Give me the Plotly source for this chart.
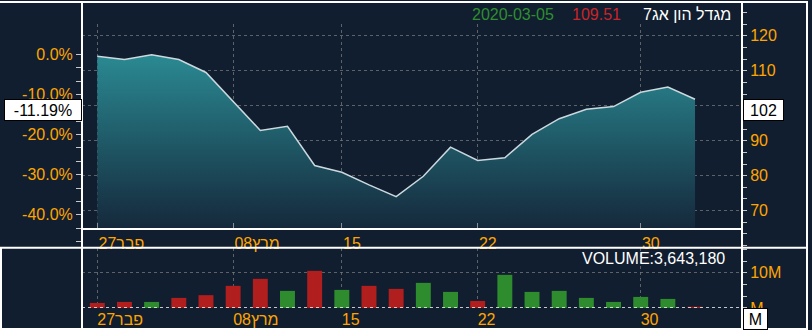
import plotly.graph_objects as go

# ---------------- data ----------------
dates = ["2020-02-27", "2020-03-01", "2020-03-03", "2020-03-04", "2020-03-05",
         "2020-03-08", "2020-03-09", "2020-03-11", "2020-03-12", "2020-03-15",
         "2020-03-16", "2020-03-17", "2020-03-18", "2020-03-19", "2020-03-22",
         "2020-03-23", "2020-03-24", "2020-03-25", "2020-03-26", "2020-03-29",
         "2020-03-30", "2020-03-31", "2020-04-01"]
close = [114.18, 113.23, 114.55, 113.23, 109.51, 101.27, 92.95, 94.10, 82.90,
         80.99, 77.37, 74.02, 79.84, 88.16, 84.34, 85.12, 91.80, 96.30, 98.97,
         99.75, 103.85, 105.37, 101.84]
volume = [1.43e6, 1.71e6, 1.71e6, 2.86e6, 3643180, 6.29e6, 8.29e6, 4.86e6,
          10.57e6, 5.14e6, 6.29e6, 5.43e6, 7.14e6, 4.57e6, 2.0e6, 9.43e6,
          4.57e6, 4.86e6, 2.86e6, 1.71e6, 3.14e6, 2.57e6, 0.29e6]
vol_dir = ["down", "down", "up", "down", "down", "down", "down", "up", "down",
           "up", "down", "down", "up", "up", "down", "up", "up", "up", "up",
           "up", "up", "up", "down"]
base_price = 114.67
security_name = "מגדל הון אג7"
tick_dates = ["2020-02-27", "2020-03-08", "2020-03-15", "2020-03-22", "2020-03-30"]
tick_labels = ["פבר27", "מרץ08", "15", "22", "30"]
price_ticks = [70, 80, 90, 100, 110, 120]
pct_ticks = [-40, -30, -20, -10, 0]
vol_ticks = [0, 10e6]
vol_tick_labels = ["M", "10M"]
hover_index = 4

# ---------------- geometry / style ----------------
W, H = 812, 330          # design size (pixels of the target picture)
H_LAYOUT = 340           # layout height that renders to H pixels here
BG = "#111e2f"
ORANGE = "#FFA500"
GRID = "rgba(120,120,120,0.75)"
TICKC = "#c8c8c8"
RED = "#b01e1e"
GREEN = "#2e8b2e"
FONT = "Liberation Sans, Arial, sans-serif"


def fx(px):
    return px / W


def fy(py):
    return 1 - py / H


X_LEFT, X_RIGHT = 82, 742
FIRST_PX, STEP_PX = 97.3, 27.17
x_range = [(X_LEFT - FIRST_PX) / STEP_PX, (X_RIGHT - FIRST_PX) / STEP_PX]

P_REF, P_REF_PX, PX_PER_UNIT = 120, 35.7, 3.486


def price_at(py):
    return P_REF - (py - P_REF_PX) / PX_PER_UNIT


def pct(p):
    return (p / base_price - 1) * 100


VOL_TOP, VOL_BASE, PX_PER_10M = 247, 307, 35.0
vol_range = [0, (VOL_BASE - VOL_TOP) / PX_PER_10M * 1e7]

xi = list(range(len(dates)))
tick_idx = [dates.index(d) for d in tick_dates]
main_lo, main_hi = price_at(227), price_at(24)
ax_lo, ax_hi = price_at(247), price_at(2)

minor_pct = []
v = -10 / 3
while v > pct(ax_lo):
    if abs(v - round(v / 10) * 10) > 0.5:
        minor_pct.append(v)
    v -= 10 / 3

fig = go.Figure()
fig.add_trace(go.Scatter(
    x=xi, y=close, mode="lines", xaxis="x", yaxis="y",
    line=dict(color="#cbd8de", width=1.5),
    fill="tozeroy",
    fillgradient=dict(type="vertical",
                      colorscale=[[0, "#142639"], [1, "#2a8992"]],
                      start=main_lo, stop=max(close)),
    hoverinfo="skip"))
fig.add_trace(go.Bar(
    x=xi, y=volume, xaxis="x2", yaxis="y2", width=0.55,
    marker=dict(color=[GREEN if d == "up" else RED for d in vol_dir],
                line=dict(width=0)),
    hoverinfo="skip"))
fig.add_trace(go.Scatter(
    x=xi, y=close, xaxis="x3", yaxis="y3", mode="lines",
    line=dict(width=0, color="rgba(0,0,0,0)"), hoverinfo="skip"))
fig.add_trace(go.Scatter(
    x=xi, y=[pct(c) for c in close], xaxis="x3", yaxis="y4", mode="lines",
    line=dict(width=0, color="rgba(0,0,0,0)"), hoverinfo="skip"))

tickfont = dict(color=ORANGE, size=16, family=FONT)

fig.update_layout(
    width=W, height=H_LAYOUT, autosize=False,
    margin=dict(l=0, r=0, t=0, b=0, pad=0),
    paper_bgcolor=BG, plot_bgcolor="rgba(0,0,0,0)", showlegend=False,
    font=dict(family=FONT),
    xaxis=dict(domain=[fx(X_LEFT), fx(X_RIGHT)], range=x_range, anchor="y",
               tickmode="array", tickvals=tick_idx, ticktext=tick_labels,
               ticks="inside", ticklen=5, tickcolor="#8a8f96",
               ticklabelposition="outside right",
               showline=True, linecolor="white", linewidth=1.5,
               showgrid=True, gridcolor=GRID, griddash="dot", gridwidth=1,
               zeroline=False, tickfont=tickfont, fixedrange=True),
    yaxis=dict(domain=[fy(227), fy(24)], range=[main_lo, main_hi], anchor="x",
               side="right", tickmode="array", tickvals=price_ticks,
               showticklabels=False, ticks="", showline=False,
               showgrid=True, gridcolor=GRID, griddash="dot", gridwidth=1,
               zeroline=False, fixedrange=True),
    xaxis2=dict(domain=[fx(X_LEFT), fx(X_RIGHT)], range=x_range, anchor="y2",
                tickmode="array", tickvals=tick_idx, ticktext=tick_labels,
                ticks="", ticklabelposition="outside right",
                showline=False, showgrid=True, gridcolor=GRID, griddash="dot",
                gridwidth=1, zeroline=False, tickfont=tickfont, fixedrange=True),
    yaxis2=dict(domain=[fy(VOL_BASE), fy(VOL_TOP)], range=vol_range, anchor="x2",
                side="right", tickmode="array", tickvals=vol_ticks,
                ticktext=vol_tick_labels, ticks="outside", ticklen=4,
                tickcolor=TICKC,
                minor=dict(dtick=1e7 / 3, tick0=0, ticks="outside", ticklen=4,
                           tickcolor=TICKC, showgrid=False),
                showgrid=True, gridcolor=GRID, griddash="dot", gridwidth=1,
                showline=False, zeroline=False, tickfont=tickfont,
                fixedrange=True),
    xaxis3=dict(domain=[fx(X_LEFT), fx(X_RIGHT)], range=x_range, anchor="y3",
                visible=False, fixedrange=True),
    yaxis3=dict(domain=[fy(247), fy(2)], range=[ax_lo, ax_hi], anchor="x3",
                side="right", tickmode="array", tickvals=price_ticks,
                ticks="outside", ticklen=4, tickcolor=TICKC,
                minor=dict(dtick=10 / 3, tick0=70, ticks="outside", ticklen=4,
                           tickcolor=TICKC, showgrid=False),
                showgrid=False, showline=False, zeroline=False,
                tickfont=tickfont, fixedrange=True),
    yaxis4=dict(overlaying="y3", anchor="x3", side="left",
                range=[pct(ax_lo), pct(ax_hi)], tickmode="array",
                tickvals=pct_ticks, ticktext=[f"{t:.1f}%" for t in pct_ticks],
                ticks="outside", ticklen=5, tickcolor=TICKC,
                minor=dict(tickvals=minor_pct, ticks="outside", ticklen=5,
                           tickcolor=TICKC, showgrid=False),
                showgrid=False, showline=False, zeroline=False,
                tickfont=tickfont, fixedrange=True),
)

# frame lines
frame = [
    (0, 2, 808, 2), (82, 2, 82, 328), (742, 2, 742, 328), (807, 2, 807, 328),
    (0, 247, 808, 247), (0, 328, 808, 328), (1, 247, 1, 328),
]
for x0, y0, x1, y1 in frame:
    fig.add_shape(type="line", xref="paper", yref="paper",
                  x0=fx(x0), y0=fy(y0), x1=fx(x1), y1=fy(y1),
                  line=dict(color="white", width=2), layer="above")
fig.add_shape(type="line", xref="paper", yref="y2", x0=fx(X_LEFT), x1=fx(X_RIGHT),
              y0=0, y1=0, line=dict(color="white", width=1.5, dash="dot"),
              layer="above")

# header & labels
hdr = dict(size=16, family=FONT)
fig.add_annotation(text=security_name, xref="paper", yref="paper", x=fx(733),
                   y=fy(14.5), xanchor="right", yanchor="middle",
                   showarrow=False, font=dict(color="white", **hdr))
fig.add_annotation(text=f"{close[hover_index]:.2f}", xref="paper", yref="paper",
                   x=fx(623), y=fy(14.5), xanchor="right", yanchor="middle",
                   showarrow=False, font=dict(color="#c8252a", **hdr))
fig.add_annotation(text=dates[hover_index], xref="paper", yref="paper",
                   x=fx(556), y=fy(14.5), xanchor="right", yanchor="middle",
                   showarrow=False, font=dict(color="#2f8f2f", **hdr))
fig.add_annotation(text=f"VOLUME:{volume[hover_index]:,.0f}", xref="paper",
                   yref="paper", x=fx(727), y=fy(258), xanchor="right",
                   yanchor="middle", showarrow=False,
                   font=dict(color="white", **hdr))

box = dict(showarrow=False, bgcolor="white", bordercolor="black", borderwidth=1,
           borderpad=1, font=dict(color="black", size=16, family=FONT),
           align="center", valign="middle")
fig.add_annotation(text=f"{pct(close[-1]):.2f}%", xref="paper", yref="y4",
                   x=fx(82), y=pct(close[-1]), xanchor="right", yanchor="top",
                   width=74, height=18, **box)
fig.add_annotation(text=f"{close[-1]:.0f}", xref="paper", yref="y3",
                   x=fx(742.5), y=close[-1], xanchor="left", yanchor="top",
                   width=37, height=18, **box)
fig.add_annotation(text="M", xref="paper", yref="y2", x=fx(742.5), y=0,
                   xanchor="left", yanchor="top", width=21, height=18, **box)

fig.write_html("out.html", config={"responsive": False},
               default_width=f"{W}px", default_height=f"{H_LAYOUT}px")
